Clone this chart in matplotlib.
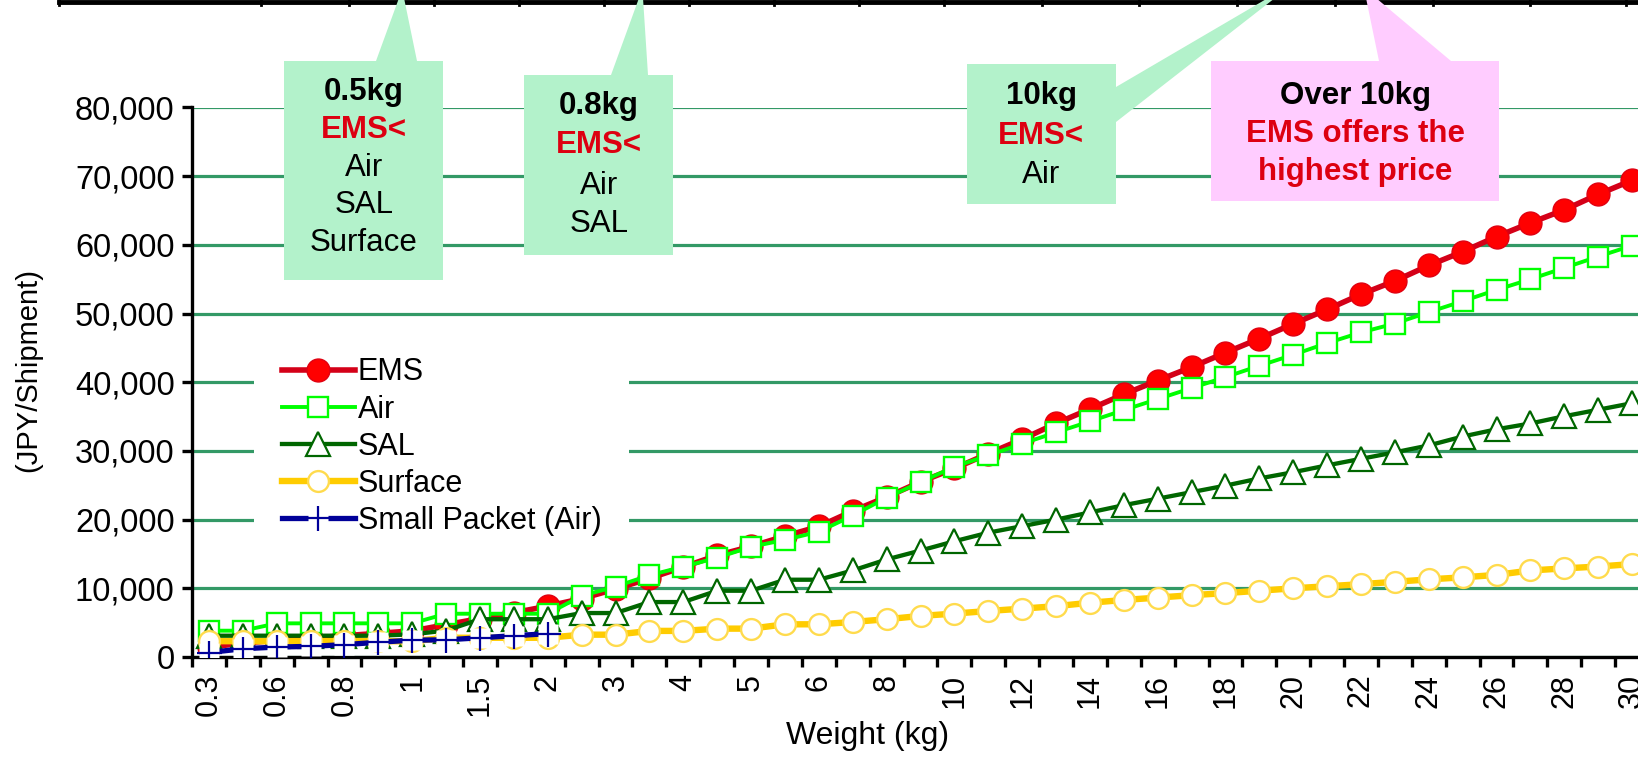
import matplotlib
matplotlib.use("Agg")
import matplotlib.pyplot as plt
from matplotlib.patches import Polygon
from matplotlib.lines import Line2D
from matplotlib.ticker import FuncFormatter
import numpy as np

plt.rcParams['font.family'] = ['Liberation Sans', 'DejaVu Sans']

W, H = 1638, 771

# weight categories (kg)
weights = ['0.3', '0.5', '0.6', '0.7', '0.8', '0.9', '1', '1.25', '1.5', '1.75', '2',
           '2.5', '3', '3.5', '4', '4.5', '5', '5.5', '6', '7', '8', '9', '10',
           '11', '12', '13', '14', '15', '16', '17', '18', '19', '20', '21', '22',
           '23', '24', '25', '26', '27', '28', '29', '30']

ems = [1400, 2050, 2400, 2750, 3100, 3450, 3800, 4700, 5600, 6450, 7400,
       8500, 9900, 11450, 13100, 14800, 16100, 17600, 19000, 21250, 23300, 25500, 27450,
       29600, 31700, 34000, 36100, 38250, 40250, 42200, 44300, 46350, 48500, 50600, 52800,
       54750, 57000, 59000, 61200, 63200, 65100, 67350, 69400]
air = [3830, 3830, 4900, 4900, 4900, 4900, 4900, 6300, 6300, 6300, 6300,
       8900, 10250, 11900, 13150, 14450, 16050, 17050, 18250, 20600, 23200, 25450, 27700,
       29350, 31050, 32700, 34300, 35950, 37550, 39150, 40750, 42400, 44000, 45700, 47250,
       48550, 50200, 51800, 53450, 55000, 56650, 58300, 59900]
sal = [3100, 3100, 3100, 3100, 3100, 3100, 3300, 3850, 5500, 5500, 5500,
       6400, 6400, 8000, 8000, 9650, 9650, 11250, 11250, 12600, 14200, 15500, 16850,
       18100, 19050, 20000, 21050, 22100, 23050, 24000, 24950, 26000, 26900, 27900, 28850,
       29800, 30800, 32100, 33150, 34000, 35050, 36000, 36950]
surface = [2300, 2300, 2300, 2300, 2300, 2300, 2300, 2800, 2800, 2800, 2800,
           3250, 3250, 3800, 3800, 4130, 4130, 4760, 4760, 5100, 5500, 5980, 6320,
           6700, 7040, 7400, 7900, 8300, 8650, 9000, 9300, 9650, 10000, 10300, 10600,
           10950, 11300, 11600, 11950, 12600, 12900, 13170, 13530]
small_packet = [650, 1200, 1450, 1550, 1800, 2150, 2450, 2500, 2800, 3100, 3400]

idx = np.arange(len(weights))

fig = plt.figure(figsize=(W / 100, H / 100), dpi=100)
ax = fig.add_axes([192 / W, (H - 657) / H, 1457 / W, 549.5 / H])


def fpos(x, y):
    return (x / W, 1 - y / H)


# series
l_ems, = ax.plot(idx, ems, color='#D40018', lw=4.0, marker='o', ms=16.5,
                 mfc='#FF0000', mec='#E00010', mew=1.0, zorder=3)
l_air, = ax.plot(idx, air, color='#00FF00', lw=2.8, marker='s', ms=15,
                 mfc='white', mec='#00FF00', mew=1.7, zorder=4)
l_sal, = ax.plot(idx, sal, color='#006600', lw=3.1, marker='^', ms=17,
                 mfc='white', mec='#006600', mew=1.6, zorder=5)
l_sur, = ax.plot(idx, surface, color='#FFCC00', lw=4.6, marker='o', ms=15,
                 mfc='white', mec='#FFDB4D', mew=1.7, zorder=6)
l_sp, = ax.plot(idx[:len(small_packet)], small_packet, color='#000099', lw=3.8,
                marker='s', ms=15, mfc='white', mec='none', zorder=7)
l_sp2, = ax.plot(idx[:len(small_packet)], small_packet, ls='none', marker='+',
                 ms=18, mec='#000099', mew=1.6, zorder=7.1)

ax.set_xlim(-0.5, len(weights) - 0.5)
ax.set_ylim(0, 80000)

# axes style
for s in ['top', 'right']:
    ax.spines[s].set_visible(False)
for s in ['left', 'bottom']:
    ax.spines[s].set_linewidth(2.4)
    ax.spines[s].set_color('black')

ax.set_yticks(np.arange(0, 80001, 10000))
ax.yaxis.set_major_formatter(FuncFormatter(lambda v, p: f'{int(v):,}'))
ax.tick_params(axis='y', length=7.5, width=2.4, pad=5, labelsize=23.5)
ax.yaxis.grid(True, color='#339966', lw=2.3)
ax.set_axisbelow(True)

ax.set_xticks(np.arange(len(weights) + 1) - 0.5)
ax.set_xticklabels([])
ax.tick_params(axis='x', which='major', length=7.5, width=2.4)
ax.set_xticks(idx[::2], minor=True)
ax.set_xticklabels(weights[::2], minor=True, rotation=90)
ax.tick_params(axis='x', which='minor', length=0, pad=12, labelsize=22)

ax.set_xlabel('Weight (kg)', fontsize=23)
ax.xaxis.set_label_coords((868 - 192) / 1457, (657 - 721) / 549.5)
ax.set_ylabel('(JPY/Shipment)', fontsize=21, va='center')
ax.yaxis.set_label_coords((28 - 192) / 1457, (657 - 370) / 549.5)

# legend
leg = ax.legend([l_ems, l_air, l_sal, l_sur, (l_sp, l_sp2)],
                ['EMS', 'Air', 'SAL', 'Surface', 'Small Packet (Air)'],
                loc='upper left', bbox_to_anchor=fpos(254, 330), bbox_transform=fig.transFigure,
                borderaxespad=0, fontsize=22, handlelength=2.39, handletextpad=0.1,
                labelspacing=0.23, borderpad=0.9, frameon=True, fancybox=False, framealpha=1)
leg.get_frame().set_facecolor('white')
leg.get_frame().set_edgecolor('none')
leg.set_zorder(20)

# table edge at the top
fig.add_artist(Line2D([59 / W, 1], [1 - 2 / H, 1 - 2 / H], color='black', lw=3.5,
                      transform=fig.transFigure))
for xv in [59, 261, 349, 434, 519, 604, 689, 774, 859, 944, 1042, 1139, 1237, 1335,
           1433, 1530, 1626]:
    fig.add_artist(Line2D([xv / W, xv / W], [1, 1 - 5 / H], color='black', lw=2,
                          transform=fig.transFigure))

# callouts
mint = '#B3F2CB'
pink = '#FFCCFF'
callouts = [
    ([(284, 61), (376, 61), (399, -2), (404, -2), (417, 61), (443, 61), (443, 280), (284, 280)], mint),
    ([(524, 75), (611, 75), (639, -2), (643, -2), (648, 75), (673, 75), (673, 255), (524, 255)], mint),
    ([(967, 64), (1116, 64), (1116, 87), (1268, -2), (1275, -2), (1116, 122), (1116, 204), (967, 204)], mint),
    ([(1211, 61), (1379, 61), (1366, -2), (1376, -2), (1451, 61), (1499, 61), (1499, 201), (1211, 201)], pink),
]
for pts, col in callouts:
    fig.add_artist(Polygon([fpos(x, y) for x, y in pts], closed=True, facecolor=col,
                           edgecolor='none', transform=fig.transFigure, zorder=15))

red_txt = '#DD0011'
box_text = [
    (364, 92, '0.5kg', 'black', 'bold'),
    (364, 130, 'EMS<', red_txt, 'bold'),
    (364, 168, 'Air', 'black', 'normal'),
    (364, 205, 'SAL', 'black', 'normal'),
    (364, 243, 'Surface', 'black', 'normal'),
    (599, 106, '0.8kg', 'black', 'bold'),
    (599, 145, 'EMS<', red_txt, 'bold'),
    (599, 186, 'Air', 'black', 'normal'),
    (599, 224, 'SAL', 'black', 'normal'),
    (1041, 96, '10kg', 'black', 'bold'),
    (1041, 136, 'EMS<', red_txt, 'bold'),
    (1041, 175, 'Air', 'black', 'normal'),
    (1355, 96, 'Over 10kg', 'black', 'bold'),
    (1355, 134, 'EMS offers the', red_txt, 'bold'),
    (1355, 172, 'highest price', red_txt, 'bold'),
]
for x, y, t, c, w in box_text:
    fig.text(x / W, 1 - y / H, t, color=c, fontweight=w, fontsize=22.5,
             ha='center', va='center', zorder=16)

fig.savefig('out.png', dpi=100)
